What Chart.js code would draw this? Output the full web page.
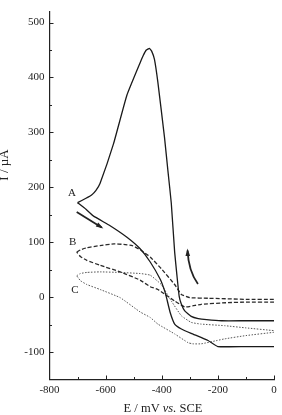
<!DOCTYPE html>
<html>
<head>
<meta charset="utf-8">
<script src="https://cdn.jsdelivr.net/npm/chart.js@4.4.1/dist/chart.umd.min.js"></script>
<style>
  html, body { margin: 0; padding: 0; background: #fff; }
  #wrap { width: 282px; height: 415px; }
</style>
</head>
<body>
<div id="wrap"><canvas id="cv"></canvas></div>
<script>
// Cyclic voltammograms A (solid), B (dashed), C (dotted)
// E in mV vs. SCE, I in uA; each curve = forward + reverse sweep

const curveA_fwdE = [-700, -670, -644, -584, -524, -477, -441, -405, -390, -383, -370, -354, -330, -295, -235, -200, -100, 0];
const curveA_fwdI = [172, 160, 148, 130, 109, 88, 64, 32, 12, -1, -28, -49, -58, -66, -79, -90, -90, -90];
const curveA_revE = [0, -100, -187, -240, -270, -295, -318, -330, -338, -346, -354, -366, -378, -390, -414, -426, -436, -444, -455, -466, -477, -524, -572, -620, -635, -650, -670, -700];
const curveA_revI = [-43, -43, -43, -41, -39, -35, -25, -13, 2, 40, 82, 171, 230, 290, 392, 433, 448, 453, 450, 440, 427, 368, 279, 207, 194, 186, 180, 172];

const curveB_fwdE = [-703, -690, -667, -620, -570, -536, -505, -473, -441, -402, -354, -330, -300, -235, -100, 0];
const curveB_fwdI = [82, 86, 90, 94, 97, 96, 94, 85, 73, 52, 23, 5, -1, -2, -4, -4];
const curveB_revE = [0, -100, -164, -259, -290, -318, -354, -414, -441, -477, -548, -620, -667, -690, -703];
const curveB_revI = [-9, -9, -10, -13, -16, -18, -7, 14, 19, 31, 46, 58, 67, 74, 82];

const curveC_fwdE = [-703, -690, -667, -620, -550, -477, -441, -402, -366, -330, -295, -262, -176, -100, 0];
const curveC_fwdI = [39, 43, 45, 46, 45, 43, 40, 23, -7, -34, -46, -49, -52, -56, -61];
const curveC_revE = [0, -100, -176, -203, -259, -290, -306, -354, -414, -441, -477, -548, -620, -667, -690, -703];
const curveC_revI = [-64, -70, -76, -79, -85, -85, -83, -67, -49, -37, -27, -1, 14, 23, 30, 39];

const xTicks = [-800, -600, -400, -200, 0];
const yTicks = [-100, 0, 100, 200, 300, 400, 500];

const curveLabels = ['A', 'B', 'C'];
const labelE = [-720, -717, -709];
const labelI = [189, 100, 12];

// arrows: [E, I] points, head at the last one
const arrow1 = [[-703, 155], [-614, 127]];
const arrow2 = [[-271, 24], [-305, 48], [-308, 85]];

const serif = '"Liberation Serif", "DejaVu Serif", serif';
const ink = '#222';

function pts(es, is) {
  return es.map((e, i) => ({ x: e, y: is[i] }));
}

const solid = { borderColor: '#1a1a1a', borderWidth: 1.3 };
const dashed = { borderColor: '#2a2a2a', borderWidth: 1.3, borderDash: [4, 2] };
const dotted = { borderColor: '#555', borderWidth: 1, borderDash: [1.5, 1.5] };

function sweep(es, is, style) {
  return Object.assign({ data: pts(es, is), showLine: true, pointRadius: 0, tension: 0.12 }, style);
}

const decorations = {
  id: 'decorations',
  afterDraw(chart) {
    const ctx = chart.ctx;
    const xs = chart.scales.x, ys = chart.scales.y;
    const area = chart.chartArea;
    ctx.save();
    // inward ticks
    ctx.strokeStyle = ink;
    ctx.lineWidth = 1;
    for (let v = -100; v <= 500; v += 50) {
      const py = Math.round(ys.getPixelForValue(v)) + 0.5;
      const len = v % 100 === 0 ? 4 : 2.5;
      ctx.beginPath();
      ctx.moveTo(area.left, py);
      ctx.lineTo(area.left + len, py);
      ctx.stroke();
    }
    for (let v = -700; v <= 0; v += 100) {
      const px = Math.round(xs.getPixelForValue(v)) + 0.5;
      const len = v % 200 === 0 ? 4 : 2.5;
      ctx.beginPath();
      ctx.moveTo(px, area.bottom);
      ctx.lineTo(px, area.bottom - len);
      ctx.stroke();
    }

    // curve letters
    ctx.fillStyle = ink;
    ctx.font = '11px ' + serif;
    ctx.textAlign = 'center';
    ctx.textBaseline = 'middle';
    curveLabels.forEach((t, i) => {
      ctx.fillText(t, xs.getPixelForValue(labelE[i]), ys.getPixelForValue(labelI[i]));
    });

    // arrows
    function arrow(p) {
      const q = p.map(([e, c]) => [xs.getPixelForValue(e), ys.getPixelForValue(c)]);
      ctx.strokeStyle = ink;
      ctx.lineWidth = 1.8;
      ctx.beginPath();
      ctx.moveTo(q[0][0], q[0][1]);
      if (q.length === 3) ctx.quadraticCurveTo(q[1][0], q[1][1], q[2][0], q[2][1]);
      else ctx.lineTo(q[1][0], q[1][1]);
      ctx.stroke();
      const a = q[q.length - 2], b = q[q.length - 1];
      const ang = Math.atan2(b[1] - a[1], b[0] - a[0]);
      ctx.beginPath();
      ctx.moveTo(b[0] + Math.cos(ang) * 2, b[1] + Math.sin(ang) * 2);
      ctx.lineTo(b[0] - Math.cos(ang - 0.4) * 6, b[1] - Math.sin(ang - 0.4) * 6);
      ctx.lineTo(b[0] - Math.cos(ang + 0.4) * 6, b[1] - Math.sin(ang + 0.4) * 6);
      ctx.closePath();
      ctx.fill();
    }
    arrow(arrow1);
    arrow(arrow2);

    // axis titles
    ctx.fillStyle = ink;
    ctx.font = '13px ' + serif;
    ctx.save();
    ctx.translate(5, 165);
    ctx.rotate(-Math.PI / 2);
    ctx.textAlign = 'center';
    ctx.fillText('I / \u00B5A', 0, 0);
    ctx.restore();

    const parts = [['E / mV ', 'normal'], ['vs.', 'italic'], [' SCE', 'normal']];
    let total = 0;
    parts.forEach(([t, st]) => {
      ctx.font = st + ' 12.5px ' + serif;
      total += ctx.measureText(t).width;
    });
    let x0 = 163 - total / 2;
    ctx.textAlign = 'left';
    parts.forEach(([t, st]) => {
      ctx.font = st + ' 12.5px ' + serif;
      ctx.fillText(t, x0, 409);
      x0 += ctx.measureText(t).width;
    });
    ctx.restore();
  }
};

new Chart(document.getElementById('cv'), {
  type: 'scatter',
  data: {
    datasets: [
      sweep(curveA_fwdE, curveA_fwdI, solid),
      sweep(curveA_revE, curveA_revI, solid),
      sweep(curveB_fwdE, curveB_fwdI, dashed),
      sweep(curveB_revE, curveB_revI, dashed),
      sweep(curveC_fwdE, curveC_fwdI, dotted),
      sweep(curveC_revE, curveC_revI, dotted)
    ]
  },
  options: {
    responsive: true,
    maintainAspectRatio: false,
    animation: false,
    events: [],
    layout: { padding: { left: 0, top: 4, right: 8, bottom: 0 } },
    plugins: { legend: { display: false }, tooltip: { enabled: false } },
    scales: {
      x: {
        type: 'linear',
        min: -800,
        max: 0,
        afterBuildTicks: s => { s.ticks = xTicks.map(v => ({ value: v })); },
        afterFit: s => { s.height = 35.5; },
        grid: { display: false, drawTicks: false },
        border: { display: true, color: ink, width: 1.2 },
        ticks: { color: ink, font: { family: serif, size: 11 }, padding: 4, maxRotation: 0 }
      },
      y: {
        type: 'linear',
        min: -150,
        max: 520,
        afterBuildTicks: s => { s.ticks = yTicks.map(v => ({ value: v })); },
        afterFit: s => { s.width = 49.5; },
        grid: { display: false, drawTicks: false },
        border: { display: true, color: ink, width: 1.2 },
        ticks: { color: ink, font: { family: serif, size: 11 }, padding: 5 }
      }
    }
  },
  plugins: [decorations]
});
</script>
</body>
</html>
